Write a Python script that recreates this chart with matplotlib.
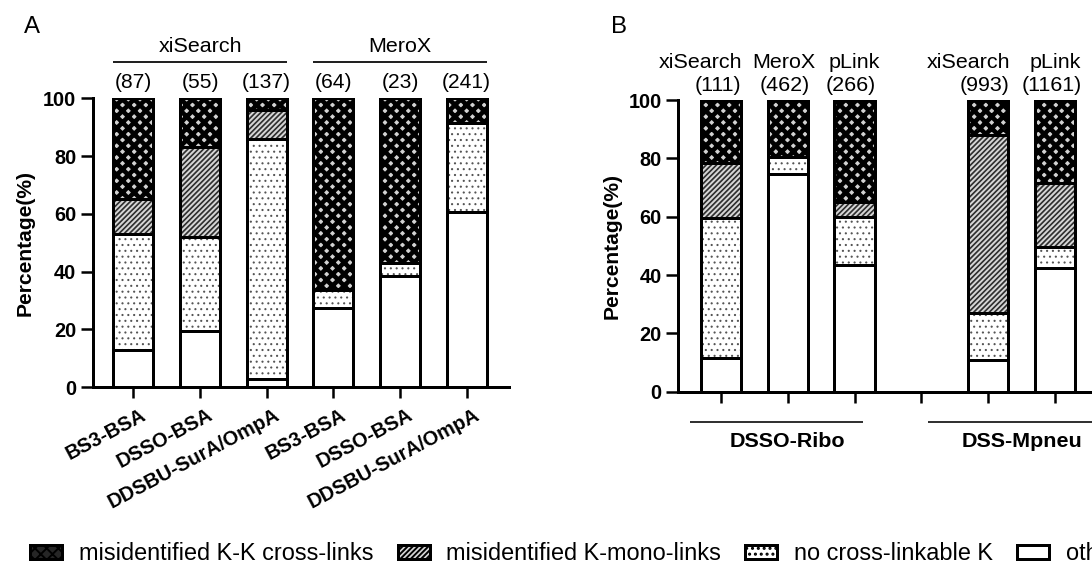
import matplotlib
matplotlib.use('Agg')
import matplotlib.pyplot as plt
import matplotlib.patches as mpatches
import matplotlib.transforms as mtrans

# ---------------- data ----------------
a_categories = ['BS3-BSA', 'DSSO-BSA', 'DDSBU-SurA/OmpA', 'BS3-BSA', 'DSSO-BSA', 'DDSBU-SurA/OmpA']
a_software = ['xiSearch', 'xiSearch', 'xiSearch', 'MeroX', 'MeroX', 'MeroX']
a_counts = [87, 55, 137, 64, 23, 241]
a_other = [13, 19.5, 3, 27.5, 38.5, 60.5]
a_nok = [40, 32.5, 83, 6, 4.5, 31]
a_mono = [12, 31, 10, 0, 0, 0]
a_kk = [35, 17, 4, 66.5, 57, 8.5]

b_groups = ['DSSO-Ribo', 'DSSO-Ribo', 'DSSO-Ribo', 'DSS-Mpneu', 'DSS-Mpneu']
b_software = ['xiSearch', 'MeroX', 'pLink', 'xiSearch', 'pLink']
b_counts = [111, 462, 266, 993, 1161]
b_other = [11.5, 74.5, 43.5, 11, 42.5]
b_nok = [48, 6, 16.5, 16, 7]
b_mono = [19, 0, 5, 61, 22]
b_kk = [21.5, 19.5, 35, 12, 28.5]

legend_labels = ['misidentified K-K cross-links', 'misidentified K-mono-links',
                 'no cross-linkable K', 'others']

# ---------------- style ----------------
DPI = 140
W, H = 1092, 567


def pt(px):
    return px * 72.0 / DPI


plt.rcParams['font.family'] = ['Liberation Sans', 'DejaVu Sans']

STYLES = {
    'kk': dict(face='#d2d2d2', hatch='xxxx', hcolor='black', hlw=pt(4.6)),
    'mono': dict(face='#d6d6d6', hatch='/' * 9, hcolor='#2e2e2e', hlw=pt(1.7)),
    'nok': dict(face='white', hatch='....', hcolor='#555555', hlw=pt(1.0)),
    'other': dict(face='white', hatch=None, hcolor='black', hlw=pt(1.0)),
}
LEGEND_FACE = {'kk': '#262626', 'mono': '#d6d6d6', 'nok': 'white', 'other': 'white'}
ORDER = ['other', 'nok', 'mono', 'kk']
BAR_W = 0.6
EDGE = pt(3)


def draw_stack(ax, x, parts):
    bottom = 0.0
    for key in ORDER:
        h = parts[key]
        if h > 0:
            st = STYLES[key]
            with plt.rc_context({'hatch.linewidth': st['hlw']}):
                ax.bar(x, h, BAR_W, bottom=bottom, color=st['face'], hatch=st['hatch'],
                       edgecolor=st['hcolor'], linewidth=0, zorder=2)
            ax.bar(x, h, BAR_W, bottom=bottom, fill=False, edgecolor='black',
                   linewidth=EDGE, zorder=3)
        bottom += h


def style_axis(ax):
    ax.spines['top'].set_visible(False)
    ax.spines['right'].set_visible(False)
    ax.spines['left'].set_linewidth(EDGE)
    ax.spines['bottom'].set_linewidth(EDGE)
    ax.set_ylim(0, 100)
    ax.set_yticks([0, 20, 40, 60, 80, 100])
    ax.tick_params(axis='y', length=pt(12.5), width=pt(2.5), pad=pt(4), labelsize=pt(20))
    ax.tick_params(axis='x', length=pt(11), width=pt(2.5), pad=pt(7), labelsize=pt(20))
    for lbl in ax.get_yticklabels():
        lbl.set_fontweight('bold')
    ax.set_ylabel('Percentage(%)', fontweight='bold', fontsize=pt(21))


fig = plt.figure(figsize=(W / DPI, H / DPI), dpi=DPI)

# ---------------- panel A ----------------
axA = fig.add_axes([93 / W, 1 - 387.3 / H, (509 - 93) / W, 289 / H])
xa = list(range(len(a_categories)))
for i in xa:
    draw_stack(axA, i, dict(other=a_other[i], nok=a_nok[i], mono=a_mono[i], kk=a_kk[i]))
axA.set_xlim(-0.605, 5.634)
style_axis(axA)
axA.set_xticks(xa)
axA.set_xticklabels(a_categories, rotation=28, ha='right', va='top',
                    rotation_mode='anchor', fontweight='bold')
shift = mtrans.ScaledTranslation(7 / DPI, 0, fig.dpi_scale_trans)
for lbl in axA.get_xticklabels():
    lbl.set_transform(lbl.get_transform() + shift)
axA.yaxis.set_label_coords(-58 / 416, 0.5)

for i in xa:
    axA.text(i, 105.6, f'({a_counts[i]})', ha='center', va='center',
             fontsize=pt(21), clip_on=False)
for name in dict.fromkeys(a_software):
    idx = [i for i in xa if a_software[i] == name]
    x0, x1 = idx[0] - 0.31, idx[-1] + 0.31
    axA.plot([x0, x1], [112.6, 112.6], color='#222222', lw=pt(2), clip_on=False,
             solid_capstyle='butt')
    axA.text((x0 + x1) / 2, 117.8, name, ha='center', va='center', fontsize=pt(21.5),
             clip_on=False)

# ---------------- panel B ----------------
axB = fig.add_axes([678 / W, 1 - 391.7 / H, 464 / W, 291.7 / H])
group_order = list(dict.fromkeys(b_groups))
xb = [i + group_order.index(g) for i, g in enumerate(b_groups)]
for j, x in enumerate(xb):
    draw_stack(axB, x, dict(other=b_other[j], nok=b_nok[j], mono=b_mono[j], kk=b_kk[j]))
axB.set_xlim(-0.64, 6.3)
style_axis(axB)
axB.set_xticks(range(0, 7))
axB.set_xticklabels([])
axB.yaxis.set_label_coords(-56 / 464, 0.5)

name_dx = {'xiSearch': -0.3, 'MeroX': -0.05, 'pLink': 0.0}
for j, x in enumerate(xb):
    axB.text(x + name_dx[b_software[j]], 112.7, b_software[j], ha='center', va='center',
             fontsize=pt(21.5), clip_on=False)
    axB.text(x - 0.05, 104.8, f'({b_counts[j]})', ha='center', va='center',
             fontsize=pt(21.5), clip_on=False)

for g in group_order:
    xs = [xb[j] for j in range(len(xb)) if b_groups[j] == g]
    if g == group_order[0]:
        x0, x1 = xs[0] - 0.46, xs[-1] + 0.12
    else:
        x0, x1 = xs[0] - 0.9, xs[-1] + 2.0
    axB.plot([x0, x1], [-10.3, -10.3], color='#333333', lw=pt(2), clip_on=False,
             solid_capstyle='butt')
    axB.text((xs[0] + xs[-1]) / 2 if len(xs) > 2 else xs[0] + 0.5, -17.1, g,
             ha='center', va='center', fontsize=pt(21.5), fontweight='bold', clip_on=False)

# ---------------- panel letters ----------------
fig.text(32 / W, 1 - 27 / H, 'A', fontsize=pt(24), ha='center', va='center')
fig.text(619 / W, 1 - 27 / H, 'B', fontsize=pt(24), ha='center', va='center')

# ---------------- legend ----------------
handles = []
for key in ['kk', 'mono', 'nok', 'other']:
    st = STYLES[key]
    with plt.rc_context({'hatch.linewidth': st['hlw']}):
        handles.append(mpatches.Patch(facecolor=LEGEND_FACE[key], hatch=st['hatch'],
                                      edgecolor='black', linewidth=pt(3)))
fs = 23.5
fig.legend(handles, legend_labels, loc='center left',
           bbox_to_anchor=(30 / W, 1 - 554 / H), ncol=4, frameon=False,
           fontsize=pt(fs), handlelength=32 / fs, handleheight=12 / fs,
           handletextpad=17 / fs, columnspacing=24 / fs, borderpad=0, borderaxespad=0)

fig.savefig('out.png', dpi=DPI)
